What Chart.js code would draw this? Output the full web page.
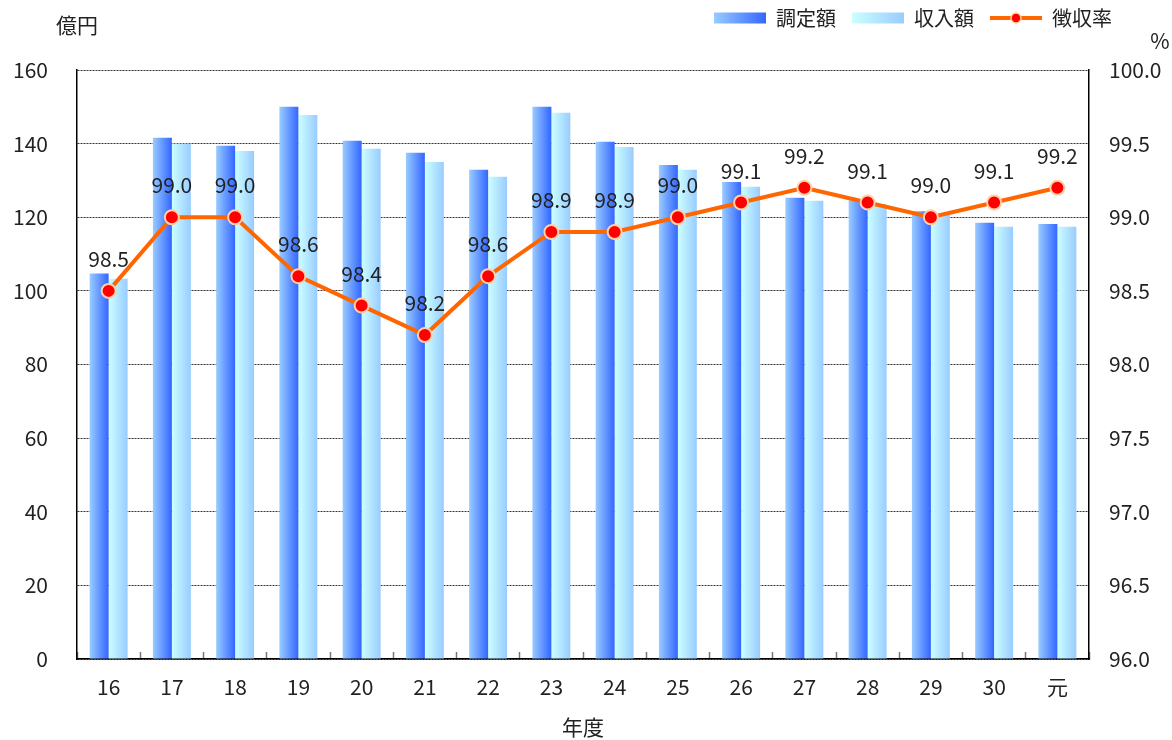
<!DOCTYPE html>
<html><head><meta charset="utf-8">
<script src="https://cdn.jsdelivr.net/npm/chart.js@4.4.0/dist/chart.umd.min.js"></script>
<style>html,body{margin:0;padding:0;background:#fff}#wrap{width:1172px;height:740px}</style>
</head><body><div id="wrap"><canvas id="c" width="1172" height="740"></canvas></div>
<script>
const categories = ['16','17','18','19','20','21','22','23','24','25','26','27','28','29','30','元'];
const assessed = [104.7,141.6,139.4,150.0,140.8,137.5,132.9,150.0,140.5,134.2,129.6,125.3,124.6,121.6,118.5,118.2];
const received = [103.3,140.0,138.0,147.8,138.6,135.0,131.0,148.4,139.1,132.9,128.3,124.5,123.5,121.0,117.4,117.4];
const rate = [98.5,99.0,99.0,98.6,98.4,98.2,98.6,98.9,98.9,99.0,99.1,99.2,99.1,99.0,99.1,99.2];
const seriesNames = ['調定額','収入額','徴収率'];
const leftTicks = [0,20,40,60,80,100,120,140,160];
const rightTicks = [96.0,96.5,97.0,97.5,98.0,98.5,99.0,99.5,100.0];

const FONT = '"Noto Sans CJK JP", "Noto Sans", sans-serif';
const CAT_PCT = 0.6;

function barGradient(c, i, c1, c2) {
  const ch = c.chart;
  const xs = ch.scales && ch.scales.x;
  if (!xs || c.type !== 'data' || !xs.width) return c2;
  const n = categories.length;
  const catW = xs.width / n;
  const barW = catW * CAT_PCT / 2;
  const px = xs.getPixelForValue(c.dataIndex);
  const left = px - catW * CAT_PCT / 2 + i * barW;
  const g = ch.ctx.createLinearGradient(left, 0, left + barW, 0);
  g.addColorStop(0, c1);
  g.addColorStop(1, c2);
  return g;
}

function iconCanvas(kind) {
  const cv = document.createElement('canvas');
  cv.width = 52; cv.height = 14;
  const x = cv.getContext('2d');
  if (kind === 'line') {
    x.strokeStyle = '#ff6600'; x.lineWidth = 4;
    x.beginPath(); x.moveTo(0, 7); x.lineTo(52, 7); x.stroke();
    x.fillStyle = '#ff0000'; x.strokeStyle = '#ffcc99'; x.lineWidth = 1.5;
    x.beginPath(); x.arc(26, 7, 5, 0, Math.PI * 2); x.fill(); x.stroke();
  } else {
    const g = x.createLinearGradient(0, 0, 52, 0);
    if (kind === 'a') { g.addColorStop(0, '#99ccff'); g.addColorStop(1, '#3366ff'); }
    else { g.addColorStop(0, '#ccffff'); g.addColorStop(1, '#99ccff'); }
    x.fillStyle = g; x.fillRect(0, 1.5, 52, 11);
  }
  return cv;
}
const icons = [iconCanvas('a'), iconCanvas('b'), iconCanvas('line')];

const labelPlugin = {
  id: 'extras',
  afterLayout(chart) {
    const lg = chart.legend;
    if (lg) {
      const dy = -32, dx = -44;
      lg.top += dy; lg.bottom += dy;
      lg.left += dx; lg.right += dx;
    }
  },
  afterDatasetsDraw(chart) {
    const ctx = chart.ctx;
    const meta = chart.getDatasetMeta(2);
    ctx.save();
    ctx.font = '21px ' + FONT;
    ctx.fillStyle = '#222';
    ctx.textAlign = 'center';
    ctx.textBaseline = 'middle';
    meta.data.forEach((p, i) => {
      ctx.fillText(rate[i].toFixed(1), p.x, p.y - 32);
    });
    ctx.restore();
  },
  afterDraw(chart) {
    const ctx = chart.ctx;
    ctx.save();
    ctx.font = '21px ' + FONT;
    ctx.fillStyle = '#222';
    ctx.textBaseline = 'middle';
    ctx.textAlign = 'center';
    ctx.fillText('億円', 77, 25);
    ctx.fillText('%', 1160, 41);
    ctx.restore();
  }
};

new Chart(document.getElementById('c'), {
  data: {
    labels: categories,
    datasets: [
      { type: 'bar', label: seriesNames[0], data: assessed, yAxisID: 'y', order: 2,
        backgroundColor: c => barGradient(c, 0, '#99ccff', '#3366ff'),
        categoryPercentage: CAT_PCT, barPercentage: 1.0, borderWidth: 0 },
      { type: 'bar', label: seriesNames[1], data: received, yAxisID: 'y', order: 2,
        backgroundColor: c => barGradient(c, 1, '#ccffff', '#99ccff'),
        categoryPercentage: CAT_PCT, barPercentage: 1.0, borderWidth: 0 },
      { type: 'line', label: seriesNames[2], data: rate, yAxisID: 'y2', order: 0,
        borderColor: '#ff6600', borderWidth: 4, backgroundColor: '#ff0000',
        pointRadius: 7, pointHoverRadius: 7, pointBackgroundColor: '#ff0000',
        pointBorderColor: '#ffd0a8', pointBorderWidth: 2, tension: 0, fill: false }
    ]
  },
  options: {
    responsive: false,
    animation: false,
    devicePixelRatio: 1,
    layout: { padding: { left: 0, right: 0, top: 24, bottom: 0 } },
    plugins: {
      tooltip: { enabled: false },
      legend: {
        position: 'top', align: 'end',
        labels: {
          usePointStyle: true, pointStyleWidth: 52, boxHeight: 14,
          font: { family: FONT, size: 20 }, color: '#222', padding: 16,
          generateLabels: (chart) => seriesNames.map((n, i) => ({
            text: n, pointStyle: icons[i], datasetIndex: i, hidden: false,
            lineWidth: 0, fillStyle: '#fff', strokeStyle: '#fff', fontColor: '#222'
          }))
        }
      }
    },
    scales: {
      x: {
        offset: true,
        grid: { display: true, drawOnChartArea: false, drawTicks: true, tickLength: -7, tickColor: '#777', tickWidth: 1.5, offset: true },
        border: { display: true, color: '#000', width: 1.5 },
        ticks: { font: { family: FONT, size: 21 }, color: '#222', padding: 22, maxRotation: 0 },
        title: { display: true, text: '年度', font: { family: FONT, size: 21 }, color: '#222', padding: { top: 4, bottom: 0 } },
        afterFit: s => { s.height = 81; }
      },
      y: {
        position: 'left', min: 0, max: 160,
        afterBuildTicks: s => { s.ticks = leftTicks.map(v => ({ value: v })); },
        grid: { color: '#333', lineWidth: 1, drawTicks: false },
        border: { display: true, color: '#000', width: 1.5, dash: [2, 1] },
        ticks: { font: { family: FONT, size: 21 }, color: '#222', padding: 29 },
        afterFit: s => { s.width = 77; }
      },
      y2: {
        position: 'right', min: 96, max: 100,
        afterBuildTicks: s => { s.ticks = rightTicks.map(v => ({ value: v })); },
        grid: { drawOnChartArea: false, drawTicks: false },
        border: { display: true, color: '#000', width: 1.5 },
        ticks: { font: { family: FONT, size: 21 }, color: '#222', padding: 20, callback: v => Number(v).toFixed(1) },
        afterFit: s => { s.width = 83; }
      }
    }
  },
  plugins: [labelPlugin]
});
</script></body></html>
